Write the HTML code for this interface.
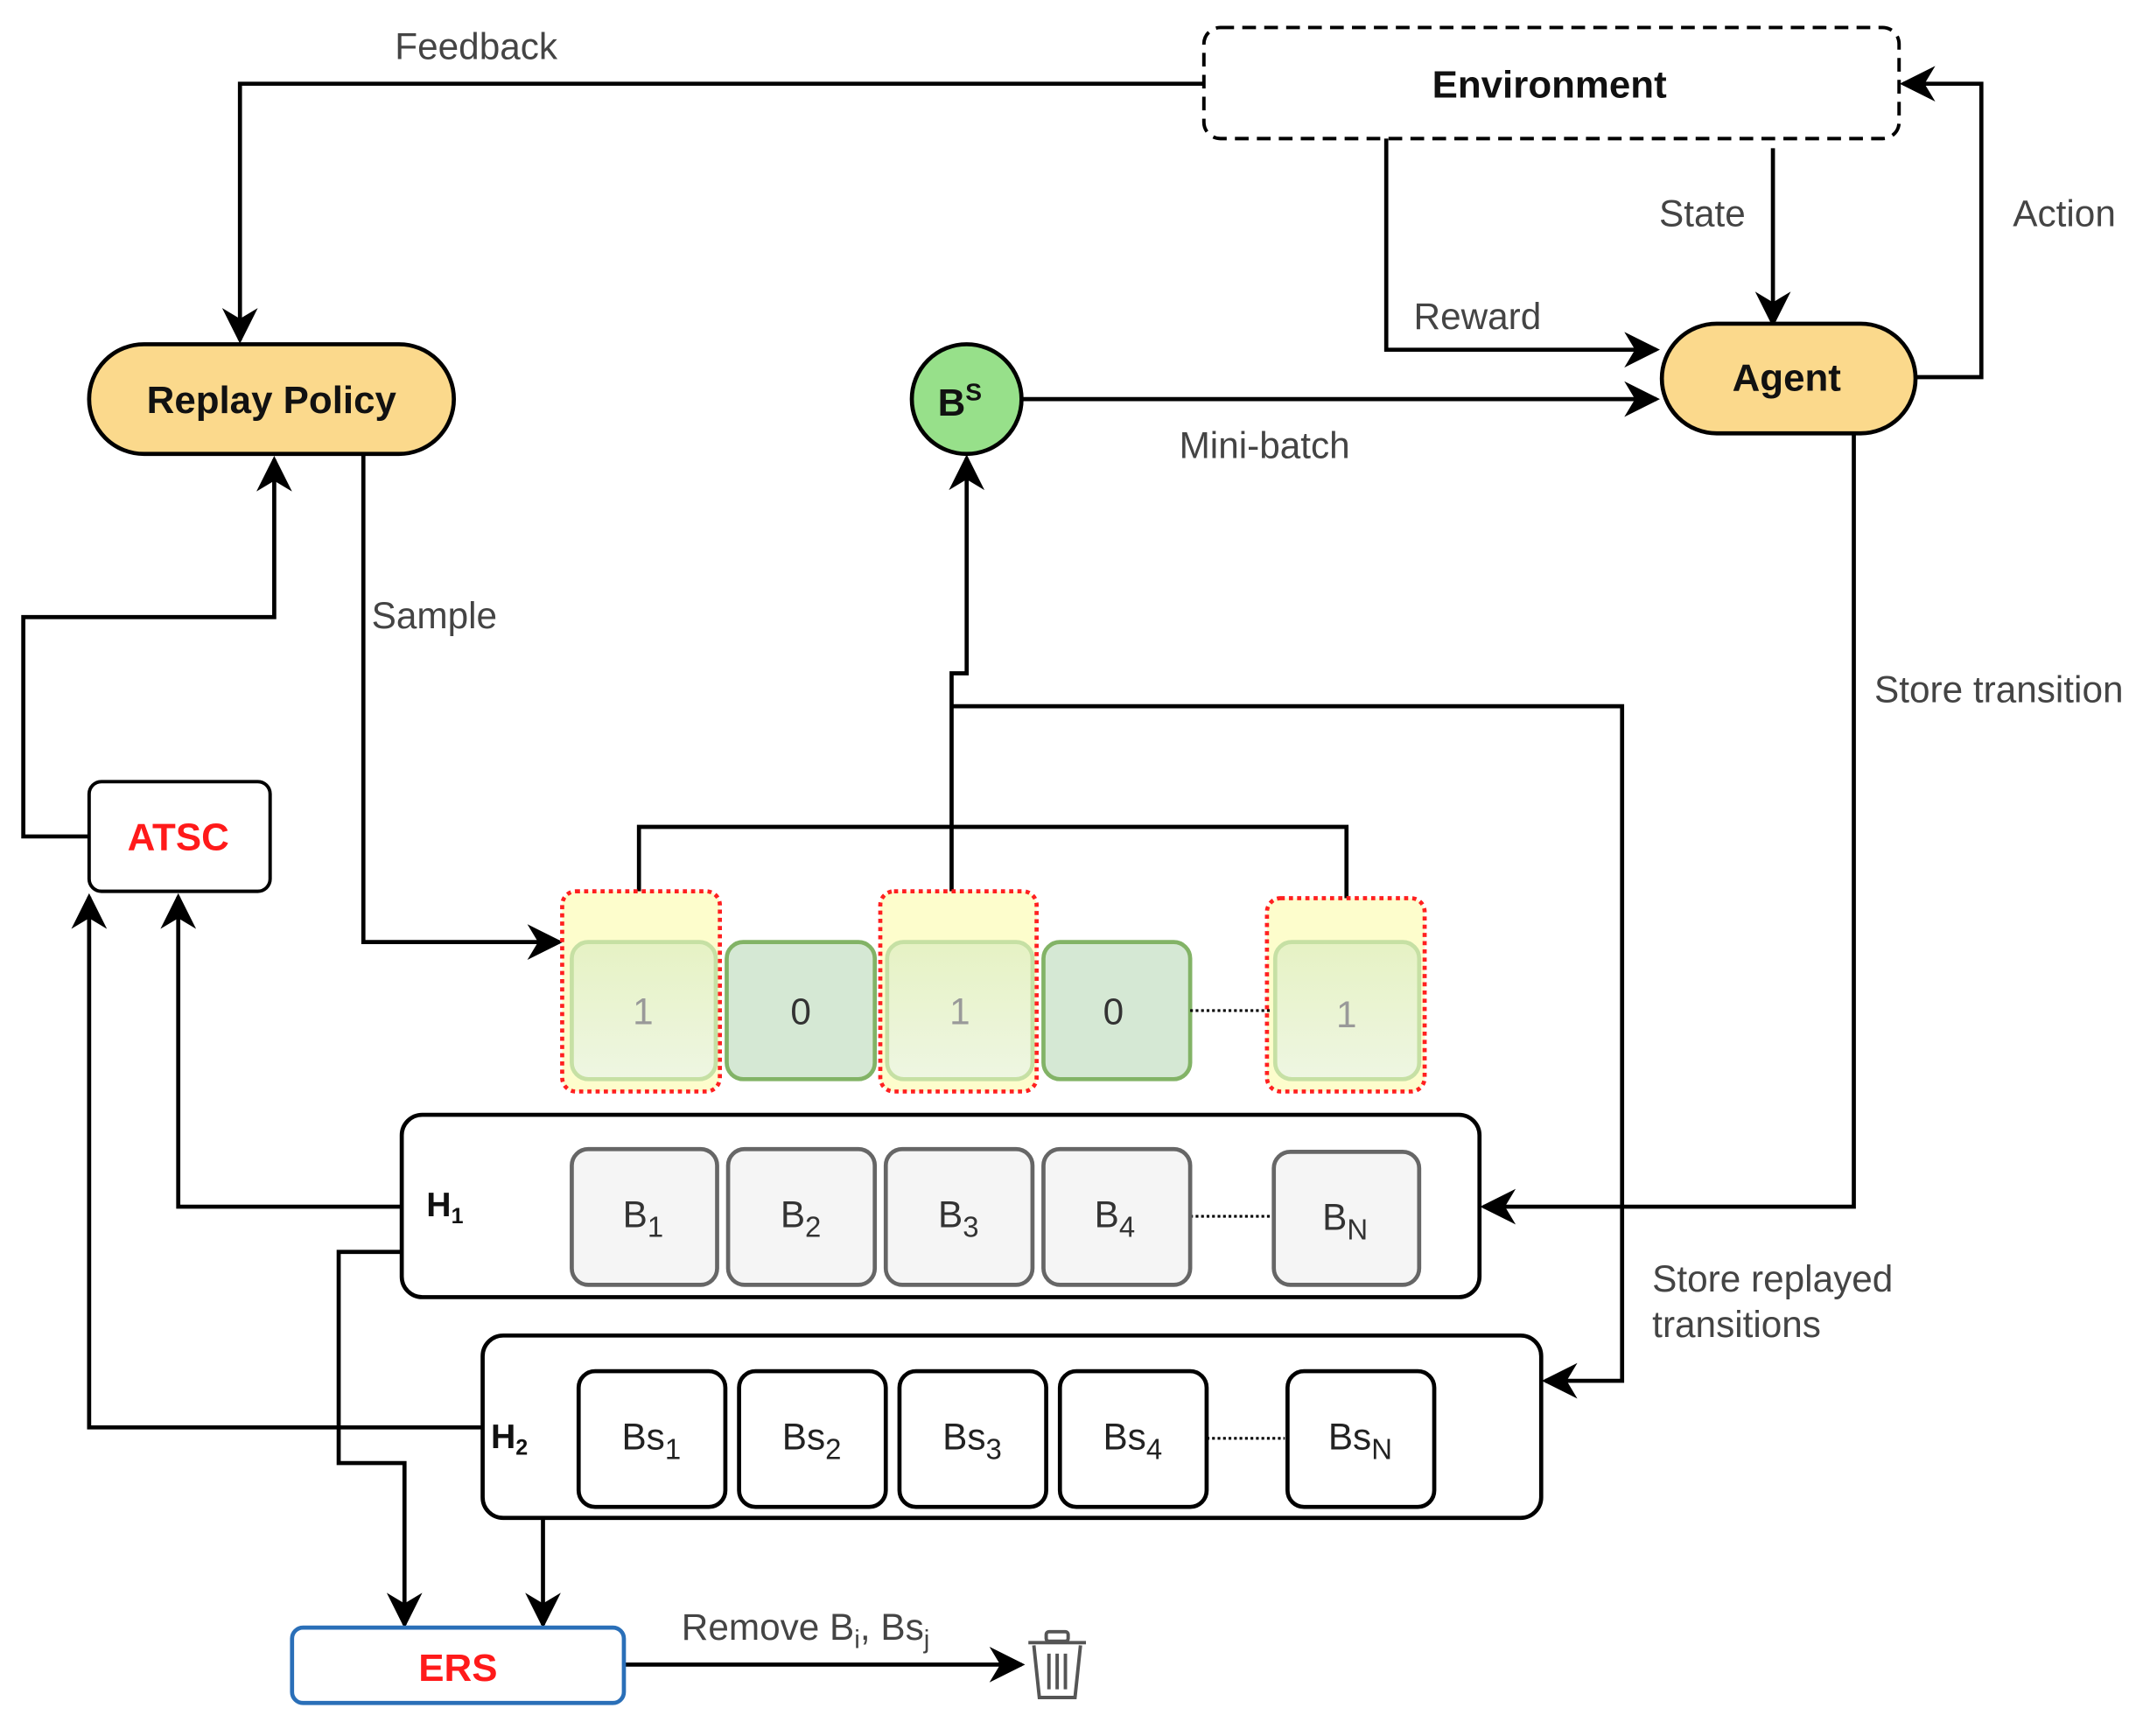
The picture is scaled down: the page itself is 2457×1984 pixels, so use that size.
<!DOCTYPE html>
<html><head><meta charset="utf-8"><style>html,body{margin:0;padding:0;background:#fff}svg{display:block}</style></head><body>
<svg width="2457" height="1984" viewBox="0 0 1568 1266" xmlns="http://www.w3.org/2000/svg" font-family="Liberation Sans, Arial, sans-serif">
<defs>
<marker id="b" viewBox="0 0 10 10" refX="9" refY="5" markerWidth="26" markerHeight="26" markerUnits="userSpaceOnUse" orient="auto"><path d="M0,0 L10,5 L0,10 L3,5 Z" fill="#000"/></marker>
<linearGradient id="g" x1="0" y1="0" x2="0" y2="1"><stop offset="0" stop-color="#e6f2c4"/><stop offset="1" stop-color="#eef6e2"/></linearGradient>
</defs>
<g fill="none" stroke="#000" stroke-width="3">
<path d="M878,61 H175 V248" marker-end="url(#b)"/>
<path d="M1011,100 V255 H1208" marker-end="url(#b)"/>
<path d="M1293,108 V236" marker-end="url(#b)"/>
<path d="M1397,275 H1445 V61 H1388" marker-end="url(#b)"/>
<path d="M745,291 H1208" marker-end="url(#b)"/>
<path d="M1352,316 V880 H1082" marker-end="url(#b)"/>
<path d="M265,331 V687 H408" marker-end="url(#b)"/>
<path d="M65,610 H17 V450 H200 V335" marker-end="url(#b)"/>
<path d="M293,880 H130 V654" marker-end="url(#b)"/>
<path d="M352,1041 H65 V654" marker-end="url(#b)"/>
<path d="M466,650 V603 H982 V655"/>
<path d="M694,650 V491 H705 V334" marker-end="url(#b)"/>
<path d="M694,515 H1183 V1007 H1127" marker-end="url(#b)"/>
<path d="M293,913 H247 V1067 H295 V1185" marker-end="url(#b)"/>
<path d="M396,1107 V1185" marker-end="url(#b)"/>
<path d="M455,1214 H745" marker-end="url(#b)"/>
</g>
<rect x="878" y="20" width="507" height="81" rx="12" fill="#fff" stroke="#000" stroke-width="2.5" stroke-dasharray="10,6"/>
<rect x="65" y="251" width="266" height="80" rx="40" fill="#fbd98c" stroke="#000" stroke-width="3"/>
<rect x="1212" y="236" width="185" height="80" rx="40" fill="#fbd98c" stroke="#000" stroke-width="3"/>
<circle cx="705" cy="291" r="40" fill="#97e08a" stroke="#000" stroke-width="3"/>
<rect x="65" y="570" width="132" height="80" rx="9" fill="#fff" stroke="#000" stroke-width="2.5"/>
<rect x="213" y="1187" width="242" height="55" rx="8" fill="#fff" stroke="#2a6fb8" stroke-width="3"/>
<g stroke="#ff2020" stroke-width="3" stroke-dasharray="3,3" fill="#fdfdcc">
<rect x="410" y="650" width="115" height="146" rx="10"/>
<rect x="642" y="650" width="114" height="146" rx="10"/>
<rect x="924" y="655" width="115" height="141" rx="10"/>
</g>
<g stroke-width="3">
<rect x="417" y="687" width="105" height="100" rx="12" fill="url(#g)" stroke="#c6e0a4"/>
<rect x="530" y="687" width="108" height="100" rx="12" fill="#d5e8d4" stroke="#82b366"/>
<rect x="647" y="687" width="106" height="100" rx="12" fill="url(#g)" stroke="#c6e0a4"/>
<rect x="761" y="687" width="107" height="100" rx="12" fill="#d5e8d4" stroke="#82b366"/>
<rect x="930" y="687" width="105" height="100" rx="12" fill="url(#g)" stroke="#c6e0a4"/>
</g>
<path d="M868,737 H927" stroke="#000" stroke-width="2" stroke-dasharray="2,2"/>
<g font-size="27" text-anchor="middle">
<text x="469" y="747" fill="#999">1</text><text x="584" y="747" fill="#333">0</text><text x="700" y="747" fill="#999">1</text><text x="812" y="747" fill="#333">0</text><text x="982" y="749" fill="#999">1</text>
</g>
<rect x="293" y="813" width="786" height="133" rx="15" fill="#fff" stroke="#000" stroke-width="3"/>
<rect x="352" y="974" width="772" height="133" rx="15" fill="#fff" stroke="#000" stroke-width="3"/>
<path d="M868,887 H927" stroke="#000" stroke-width="2" stroke-dasharray="2,2"/>
<path d="M880,1049 H937" stroke="#000" stroke-width="2" stroke-dasharray="2,2"/>
<g fill="#f5f5f5" stroke="#666" stroke-width="3">
<rect x="417" y="838" width="106" height="99" rx="12"/><rect x="531" y="838" width="107" height="99" rx="12"/><rect x="646" y="838" width="107" height="99" rx="12"/><rect x="761" y="838" width="107" height="99" rx="12"/><rect x="929" y="840" width="106" height="97" rx="12"/>
</g>
<g fill="#fff" stroke="#000" stroke-width="3">
<rect x="422" y="1000" width="107" height="99" rx="12"/><rect x="539" y="1000" width="107" height="99" rx="12"/><rect x="656" y="1000" width="107" height="99" rx="12"/><rect x="773" y="1000" width="107" height="99" rx="12"/><rect x="939" y="1000" width="107" height="99" rx="12"/>
</g>
<g font-size="27" fill="#333" text-anchor="middle">
<text x="469" y="895">B<tspan font-size="21" dy="7">1</tspan></text>
<text x="584" y="895">B<tspan font-size="21" dy="7">2</tspan></text>
<text x="699" y="895">B<tspan font-size="21" dy="7">3</tspan></text>
<text x="813" y="895">B<tspan font-size="21" dy="7">4</tspan></text>
<text x="981" y="897">B<tspan font-size="21" dy="7">N</tspan></text>
</g>
<g font-size="27" fill="#222" text-anchor="middle">
<text x="475" y="1057">Bs<tspan font-size="21" dy="7">1</tspan></text>
<text x="592" y="1057">Bs<tspan font-size="21" dy="7">2</tspan></text>
<text x="709" y="1057">Bs<tspan font-size="21" dy="7">3</tspan></text>
<text x="826" y="1057">Bs<tspan font-size="21" dy="7">4</tspan></text>
<text x="992" y="1057">Bs<tspan font-size="21" dy="7">N</tspan></text>
</g>
<g font-weight="bold" font-size="28" text-anchor="middle" fill="#111">
<text x="1130" y="71">Environment</text>
<text x="198" y="301">Replay Policy</text>
<text x="1303" y="285">Agent</text>
<text x="700" y="303">B<tspan font-size="18" dy="-11">S</tspan></text>
<text x="130" y="620" fill="#ff1a1a">ATSC</text>
<text x="334" y="1226" fill="#ff1a1a">ERS</text>
</g>
<g font-weight="bold" font-size="25" fill="#111">
<text x="311" y="887">H<tspan font-size="16" dy="5">1</tspan></text>
<text x="358" y="1056">H<tspan font-size="16" dy="5">2</tspan></text>
</g>
<g font-size="27" fill="#444">
<text x="288" y="43">Feedback</text>
<text x="1031" y="240">Reward</text>
<text x="1210" y="165">State</text>
<text x="1468" y="165">Action</text>
<text x="860" y="334">Mini-batch</text>
<text x="1367" y="512">Store transition</text>
<text x="271" y="458">Sample</text>
<text x="1205" y="942">Store replayed</text>
<text x="1205" y="975">transitions</text>
<text x="497" y="1196">Remove B<tspan font-size="19" dy="6">i</tspan><tspan dy="-6">, Bs</tspan><tspan font-size="19" dy="6">j</tspan></text>
</g>
<g stroke="#555" stroke-width="2.5" fill="none">
<path d="M750,1198 H792"/><rect x="763" y="1190" width="16" height="7" rx="2"/>
<path d="M754,1200 L758,1238 H784 L788,1200"/>
<path d="M765,1206 V1232 M771,1206 V1232 M777,1206 V1232"/>
</g>
</svg>
</body></html>
